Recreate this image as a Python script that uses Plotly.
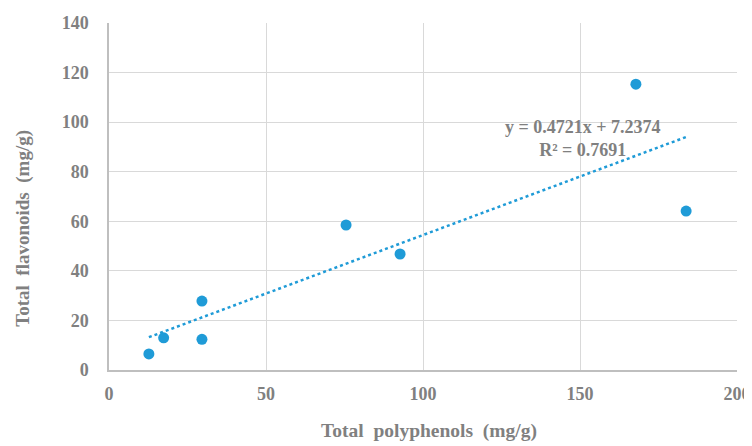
import plotly.graph_objects as go

polyphenols = [12.7, 17.4, 29.6, 29.6, 75.5, 92.7, 167.8, 183.8]
flavonoids = [6.5, 13.0, 27.8, 12.4, 58.5, 46.8, 115.3, 64.1]
slope = 0.4721
intercept = 7.2374
r2 = 0.7691
x_ticks = [0, 50, 100, 150, 200]
y_ticks = [0, 20, 40, 60, 80, 100, 120, 140]

grey = "#808080"
blue = "#1f9bd7"
font_fam = "Liberation Serif, Times New Roman, serif"

xs_line = [min(polyphenols), max(polyphenols)]
ys_line = [slope * v + intercept for v in xs_line]

fig = go.Figure()
fig.add_trace(go.Scatter(x=xs_line, y=ys_line, mode="lines",
                         line=dict(color=blue, width=2.5, dash="dot"),
                         hoverinfo="skip", showlegend=False))
fig.add_trace(go.Scatter(x=polyphenols, y=flavonoids, mode="markers",
                         marker=dict(color=blue, size=11),
                         showlegend=False))

fig.add_annotation(x=151, y=93.5, xref="x", yref="y",
                   text=f"<b>y = {slope}x + {intercept}<br>R² = {r2}</b>",
                   showarrow=False, align="center",
                   font=dict(family=font_fam, size=18, color=grey))

fig.add_annotation(x=0.51, y=-0.176, xref="paper", yref="paper",
                   text="<b>Total  polyphenols  (mg/g)</b>", showarrow=False,
                   xanchor="center", yanchor="middle",
                   font=dict(family=font_fam, size=19.5, color=grey))
fig.add_annotation(x=-0.137, y=0.41, xref="paper", yref="paper",
                   text="<b>Total  flavonoids  (mg/g)</b>", showarrow=False,
                   textangle=-90, xanchor="center", yanchor="middle",
                   font=dict(family=font_fam, size=19, color=grey))

fig.update_layout(
    width=744, height=438,
    margin=dict(l=101, r=15, t=15, b=76),
    paper_bgcolor="white", plot_bgcolor="white",
    font=dict(family=font_fam, color=grey),
    xaxis=dict(range=[0, 200], tickvals=x_ticks, showgrid=True,
               gridcolor="#d9d9d9", gridwidth=1, zeroline=False,
               showline=True, linecolor="#bfbfbf", linewidth=1.5,
               tickfont=dict(family=font_fam, size=18, color=grey, weight="bold"),
               ticks="", ticklabelstandoff=7, automargin=False),
    yaxis=dict(range=[0, 140], tickvals=y_ticks, showgrid=True,
               gridcolor="#d9d9d9", gridwidth=1, zeroline=False,
               showline=True, linecolor="#bfbfbf", linewidth=1.5,
               tickfont=dict(family=font_fam, size=18, color=grey, weight="bold"),
               ticks="", ticklabelstandoff=15, automargin=False),
)

fig.write_html("out.html")
